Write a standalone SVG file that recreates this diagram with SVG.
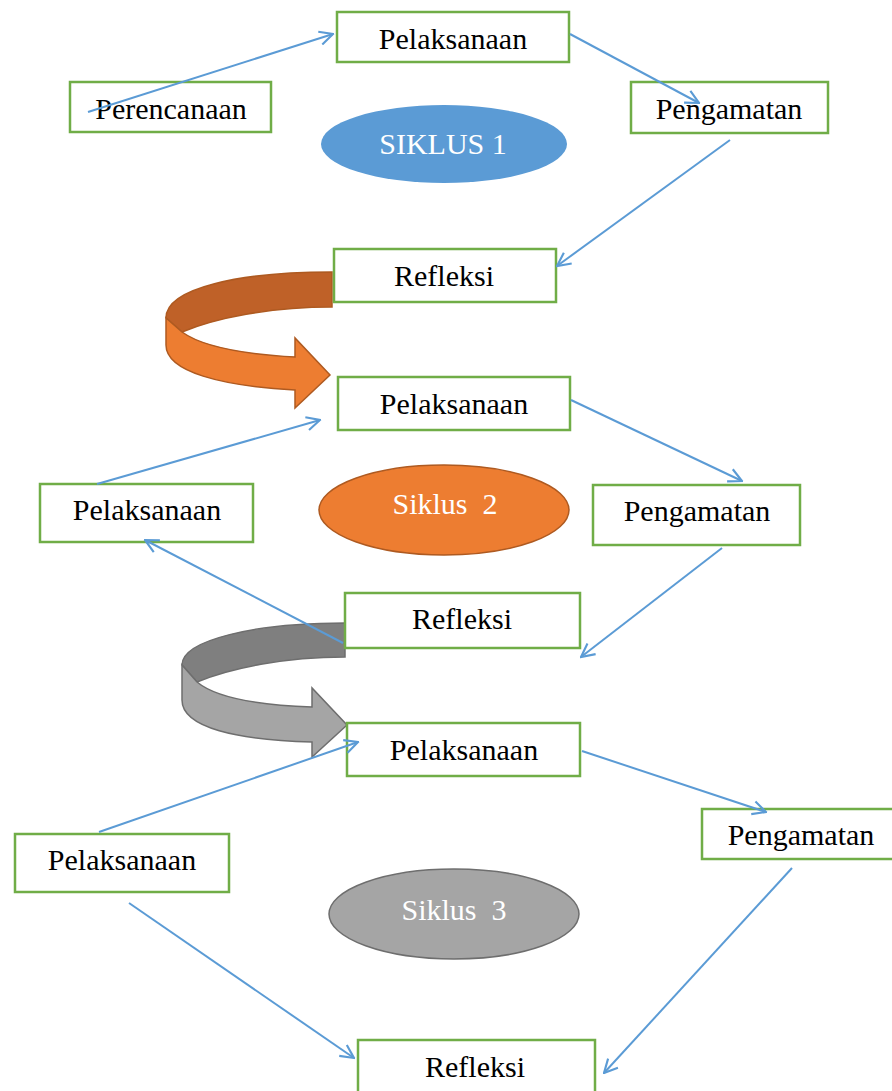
<svg xmlns="http://www.w3.org/2000/svg" width="892" height="1091" viewBox="0 0 892 1091">
<defs>
<style>
.box{fill:#fff;stroke:#70AD47;stroke-width:2.5}
.t{font-family:"Liberation Serif","Times New Roman",serif;font-size:30px;fill:#000;text-anchor:middle}
.et{font-family:"Liberation Serif","Times New Roman",serif;font-size:30px;fill:#fff;text-anchor:middle}
.c{fill:none;stroke:#5B9BD5;stroke-width:2;marker-end:url(#ah)}
</style>
<marker id="ah" viewBox="0 0 12 12" refX="11" refY="6" markerWidth="16" markerHeight="16" markerUnits="userSpaceOnUse" orient="auto">
<path d="M1,1 L11,6 L1,11" fill="none" stroke="#5B9BD5" stroke-width="1.6"/>
</marker>
</defs>
<rect width="892" height="1091" fill="#fff"/>

<g id="arrow-orange">
<path d="M332,272 C240,272 166,288 166,318 L182,332 C215,318 270,307 332,307 Z" fill="#BF6128" stroke="#AE5A21" stroke-width="1.5"/>
<path d="M166,318 L166,345 C166,372 222,386 295,390 L295,408 L330,375 L295,338 L295,357 C240,354 200,345 182,332 Z" fill="#ED7D31" stroke="#AE5A21" stroke-width="1.5"/>
</g>
<g id="arrow-gray">
<path d="M345,623 C255,623 182,640 182,665 L197,682 C230,668 285,657 345,657 Z" fill="#7F7F7F" stroke="#6E6E6E" stroke-width="1.5"/>
<path d="M182,665 L182,700 C182,728 238,740 312,742 L312,757 L347,725 L312,688 L312,707 C255,705 215,697 197,682 Z" fill="#A5A5A5" stroke="#6E6E6E" stroke-width="1.5"/>
</g>

<g id="siklus1"><ellipse cx="444" cy="144" rx="123" ry="39" fill="#5B9BD5"/><text class="et" x="443" y="154">SIKLUS 1</text></g>
<g id="siklus2"><ellipse cx="444" cy="510" rx="125" ry="45" fill="#ED7D31" stroke="#AE5A21" stroke-width="1.5"/><text class="et" x="445" y="514" xml:space="preserve">Siklus  2</text></g>
<g id="siklus3"><ellipse cx="454" cy="914" rx="125" ry="45" fill="#A5A5A5" stroke="#6E6E6E" stroke-width="1.5"/><text class="et" x="454" y="920" xml:space="preserve">Siklus  3</text></g>

<g id="pelaksanaan1"><rect class="box" x="337" y="12" width="232" height="50"/><text class="t" x="453" y="49">Pelaksanaan</text></g>
<g id="perencanaan"><rect class="box" x="70" y="82" width="201" height="50"/><text class="t" x="171" y="119">Perencanaan</text></g>
<g id="pengamatan1"><rect class="box" x="631" y="82" width="197" height="51"/><text class="t" x="729" y="119">Pengamatan</text></g>
<g id="refleksi1"><rect class="box" x="334" y="249" width="222" height="53"/><text class="t" x="444" y="286">Refleksi</text></g>

<g id="pelaksanaan2"><rect class="box" x="338" y="377" width="232" height="53"/><text class="t" x="454" y="414">Pelaksanaan</text></g>
<g id="pelaksanaan2b"><rect class="box" x="40" y="484" width="213" height="58"/><text class="t" x="147" y="520">Pelaksanaan</text></g>
<g id="pengamatan2"><rect class="box" x="593" y="485" width="207" height="60"/><text class="t" x="697" y="521">Pengamatan</text></g>
<g id="refleksi2"><rect class="box" x="345" y="593" width="235" height="55"/><text class="t" x="462" y="629">Refleksi</text></g>

<g id="pelaksanaan3"><rect class="box" x="347" y="723" width="233" height="53"/><text class="t" x="464" y="760">Pelaksanaan</text></g>
<g id="pengamatan3"><rect class="box" x="702" y="809" width="192" height="50"/><text class="t" x="801" y="845">Pengamatan</text></g>
<g id="pelaksanaan3b"><rect class="box" x="15" y="834" width="214" height="58"/><text class="t" x="122" y="870">Pelaksanaan</text></g>
<g id="refleksi3"><rect class="box" x="358" y="1040" width="237" height="60"/><text class="t" x="475" y="1077">Refleksi</text></g>

<g id="connectors">
<line class="c" x1="88" y1="112" x2="333" y2="34"/>
<line class="c" x1="570" y1="34" x2="699" y2="103"/>
<line class="c" x1="730" y1="140" x2="557" y2="266"/>
<line class="c" x1="97" y1="484" x2="320" y2="420"/>
<line class="c" x1="571" y1="400" x2="742" y2="481"/>
<line class="c" x1="722" y1="548" x2="581" y2="657"/>
<line class="c" x1="343" y1="643" x2="145" y2="540"/>
<line class="c" x1="99" y1="832" x2="358" y2="742"/>
<line class="c" x1="582" y1="751" x2="766" y2="812"/>
<line class="c" x1="129" y1="903" x2="354" y2="1058"/>
<line class="c" x1="792" y1="868" x2="604" y2="1073"/>
</g>
</svg>
